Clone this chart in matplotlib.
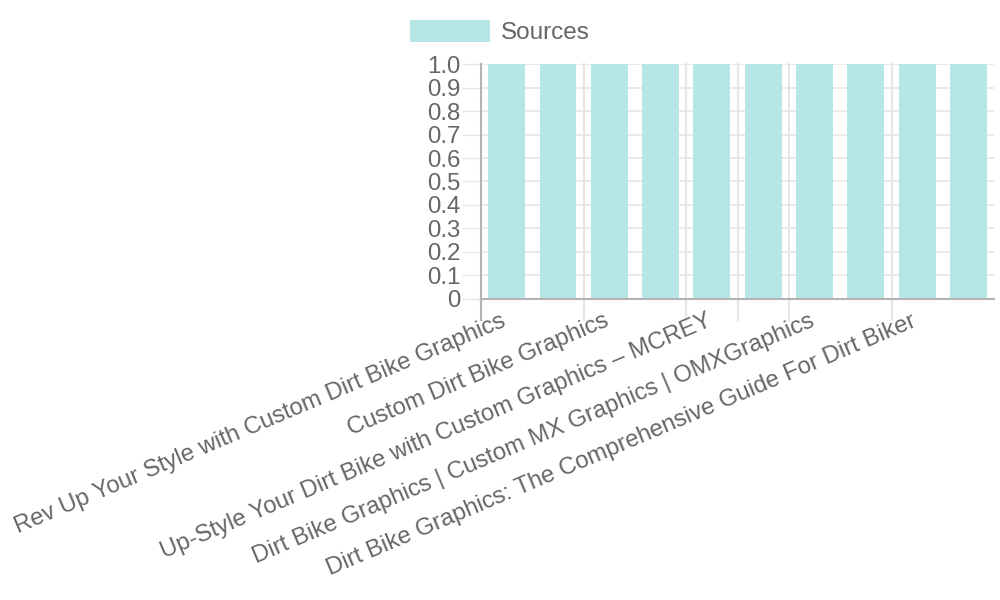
import matplotlib.pyplot as plt
from matplotlib.transforms import ScaledTranslation

# chart data
bar_values = [1.0, 1.0, 1.0, 1.0, 1.0, 1.0, 1.0, 1.0, 1.0, 1.0]
label_positions = [0, 2, 4, 6, 8]
tick_labels = [
    "Rev Up Your Style with Custom Dirt Bike Graphics",
    "Custom Dirt Bike Graphics",
    "Up-Style Your Dirt Bike with Custom Graphics – MCREY",
    "Dirt Bike Graphics | Custom MX Graphics | OMXGraphics",
    "Dirt Bike Graphics: The Comprehensive Guide For Dirt Biker",
]
y_ticks = [0, 0.1, 0.2, 0.3, 0.4, 0.5, 0.6, 0.7, 0.8, 0.9, 1.0]
y_tick_labels = ["0", "0.1", "0.2", "0.3", "0.4", "0.5", "0.6", "0.7", "0.8", "0.9", "1.0"]
grid_boundaries = [-0.5, 1.5, 3.5, 4.5, 5.5, 7.5]

plt.rcParams['font.family'] = ['Liberation Sans', 'DejaVu Sans']
text_color = '#666666'
bar_color = '#b7e6e6'
grid_color = '#e6e6e6'
axis_color = '#b3b3b3'

fig = plt.figure(figsize=(10, 6), dpi=100)
ax = fig.add_axes([0.481, 0.5017, 0.5132, 0.3916])

x = list(range(len(bar_values)))
ax.bar(x, bar_values, width=0.72, color=bar_color, zorder=2, label="Sources")

ax.set_xlim(-0.5, len(bar_values) - 0.5)
ax.set_ylim(0, 1.0)

# horizontal grid with ticks to the left
ax.set_yticks(y_ticks)
ax.set_yticklabels(y_tick_labels, fontsize=17.3, color=text_color)
ax.tick_params(axis='y', length=14, width=1, color=grid_color, pad=0.5)
for y in y_ticks[1:]:
    ax.axhline(y, color=grid_color, lw=1.2, zorder=1)

# vertical grid lines extending below the axis
for b in grid_boundaries[1:]:
    ax.axvline(b, ymin=-0.09, ymax=1, color=grid_color, lw=1.5, zorder=1, clip_on=False)
ax.axvline(-0.5, ymin=-0.09, ymax=1, color=axis_color, lw=1.5, zorder=3, clip_on=False)

ax.set_xticks(label_positions)
ax.set_xticklabels(tick_labels, rotation=23, ha='right', va='top',
                   rotation_mode='anchor', fontsize=17.2, color=text_color)
ax.tick_params(axis='x', length=0, pad=8)
shift = ScaledTranslation(-6 / 100, 0, fig.dpi_scale_trans)
for lbl in ax.get_xticklabels():
    lbl.set_transform(lbl.get_transform() + shift)

for s in ['top', 'right', 'left']:
    ax.spines[s].set_visible(False)
ax.spines['bottom'].set_color(axis_color)
ax.spines['bottom'].set_linewidth(1.5)
ax.spines['bottom'].set_zorder(3)

leg = fig.legend(loc='upper left', bbox_to_anchor=(0.388, 1.003), frameon=False,
                 fontsize=17.5, handlelength=3.3, handleheight=1.0, handletextpad=0.45)
for t in leg.get_texts():
    t.set_color(text_color)

plt.savefig("out.png", dpi=100)
plt.close()
